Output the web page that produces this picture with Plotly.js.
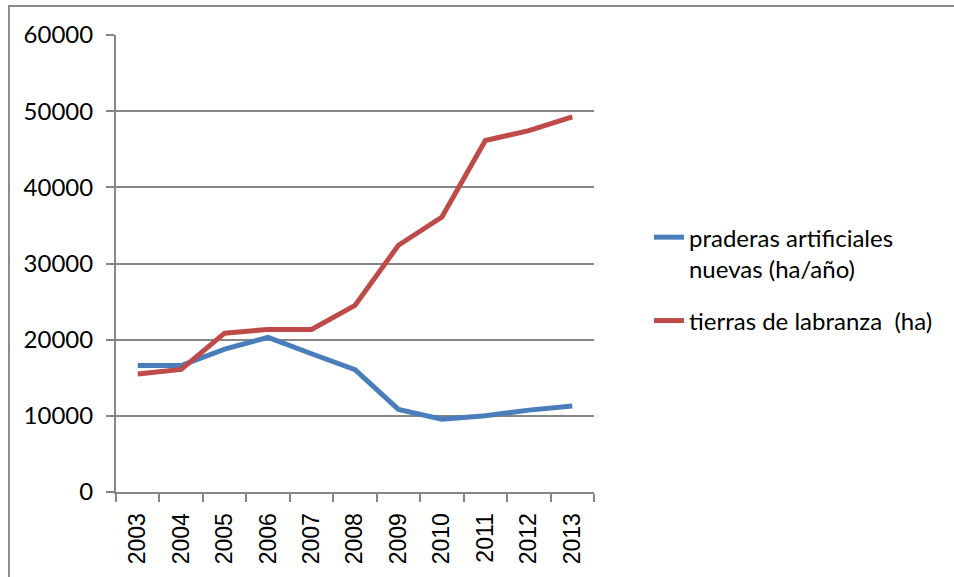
<!DOCTYPE html>
<html>
<head>
<meta charset="utf-8">
<script src="https://cdn.plot.ly/plotly-3.0.1.min.js"></script>
<style>
html,body{margin:0;padding:0;background:#fff;}
#wrap{position:relative;width:954px;height:577px;}
#chart{width:954px;height:577px;}
#frame{position:absolute;left:8px;top:5px;width:960px;height:600px;border-left:2px solid #8c8c8c;border-top:2px solid #8c8c8c;pointer-events:none;}
</style>
</head>
<body>
<div id="wrap">
<div id="chart"></div>
<div id="frame"></div>
</div>
<script>
const years = ['2003','2004','2005','2006','2007','2008','2009','2010','2011','2012','2013'];
const praderas = [16600, 16600, 18750, 20300, 18150, 16050, 10850, 9550, 10000, 10750, 11300];
const tierras = [15500, 16100, 20850, 21350, 21350, 24500, 32400, 36100, 46150, 47450, 49250];
const seriesNames = ['praderas artificiales<br>nuevas (ha/año)', 'tierras de labranza  (ha)'];
const yTicks = [0, 10000, 20000, 30000, 40000, 50000, 60000];

const traces = [
  {x: years, y: praderas, type: 'scatter', mode: 'lines', name: seriesNames[0],
   legendgroup: 'a', line: {color: '#4a7ebb', width: 5}},
  {x: years, y: tierras, type: 'scatter', mode: 'lines', name: seriesNames[1],
   legendgroup: 'b', line: {color: '#be4b48', width: 5}}
];

const layout = {
  width: 954, height: 577,
  margin: {l: 116, r: 360, t: 35, b: 85, pad: 0},
  paper_bgcolor: '#ffffff', plot_bgcolor: '#ffffff',
  showlegend: true,
  legend: {
    x: 1.115, y: 0.606, xanchor: 'left', yanchor: 'top',
    valign: 'top', traceorder: 'grouped', tracegroupgap: 18,
    font: {family: 'Lato, "Open Sans", sans-serif', size: 24, color: '#000'},
    bgcolor: 'rgba(0,0,0,0)', borderwidth: 0
  },
  xaxis: {
    type: 'category', range: [-0.5, 10.5],
    tickangle: -90, tickson: 'boundaries', ticks: 'outside', ticklen: 8,
    tickcolor: '#868686', tickwidth: 2,
    showline: true, linecolor: '#868686', linewidth: 2,
    showgrid: false, zeroline: false,
    tickfont: {family: '"Liberation Sans", Arial, sans-serif', size: 23, color: '#000'},
    ticklabelstandoff: 10,
    fixedrange: true
  },
  yaxis: {
    range: [0, 60000], tickvals: yTicks, ticktext: yTicks.map(String),
    ticks: 'outside', ticklen: 8, tickcolor: '#868686', tickwidth: 2,
    showline: true, linecolor: '#868686', linewidth: 2,
    showgrid: true, gridcolor: '#868686', gridwidth: 2,
    zeroline: false,
    tickfont: {family: 'Lato, "Open Sans", sans-serif', size: 24, color: '#000'},
    ticklabelstandoff: 8,
    fixedrange: true
  }
};

Plotly.newPlot('chart', traces, layout, {displayModeBar: false, staticPlot: true});
</script>
</body>
</html>
